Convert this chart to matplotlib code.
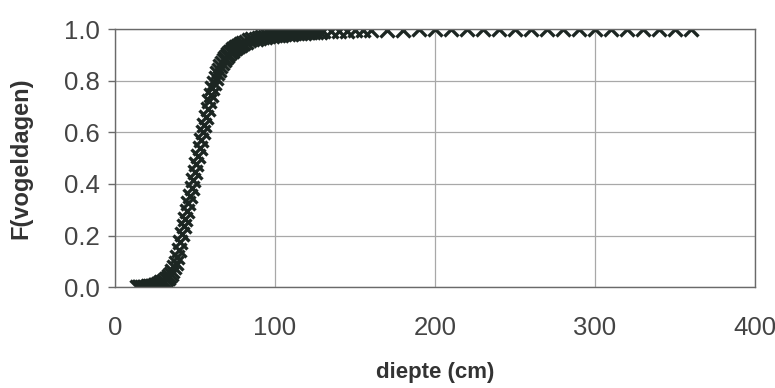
import matplotlib.pyplot as plt

plt.rcParams['font.family'] = ['Liberation Sans', 'DejaVu Sans']

# diepte (cm) en cumulatieve fractie vogeldagen
diepte = [14, 15, 16, 17, 18, 19, 20, 21, 22, 23, 24, 25, 26, 27, 28, 29,
          30, 31, 32, 33, 34, 35, 36, 37, 38, 39, 40, 41, 42, 43, 44, 45,
          46, 47, 48, 49, 50, 51, 52, 53, 54, 55, 56, 57, 58, 59, 60, 61,
          62, 63, 64, 65, 66, 67, 68, 69, 70, 71, 72, 73, 74, 75, 76, 77,
          78, 79, 80, 82, 84, 86, 88, 90, 92, 94, 96, 98, 100, 102, 104,
          106, 108, 110, 112, 114, 116, 118, 120, 122, 124, 126, 128, 130,
          135, 140, 145, 150, 155, 160, 170, 180, 190, 200, 210, 220, 230,
          240, 250, 260, 270, 280, 290, 300, 310, 320, 330, 340, 350, 360]
fractie = [0.000, 0.000, 0.000, 0.001, 0.001, 0.002, 0.002, 0.003, 0.004,
           0.005, 0.006, 0.008, 0.010, 0.012, 0.015, 0.018, 0.021, 0.025,
           0.030, 0.036, 0.043, 0.052, 0.063, 0.077, 0.095, 0.118, 0.145,
           0.175, 0.205, 0.235, 0.265, 0.295, 0.325, 0.355, 0.385, 0.415,
           0.445, 0.478, 0.510, 0.540, 0.570, 0.600, 0.630, 0.660, 0.690,
           0.720, 0.745, 0.770, 0.790, 0.810, 0.828, 0.843, 0.857, 0.869,
           0.880, 0.889, 0.897, 0.904, 0.910, 0.916, 0.921, 0.926, 0.930,
           0.934, 0.938, 0.942, 0.945, 0.951, 0.956, 0.960, 0.963, 0.966,
           0.969, 0.971, 0.973, 0.975, 0.977, 0.978, 0.979, 0.980, 0.981,
           0.982, 0.983, 0.984, 0.985, 0.986, 0.987, 0.988, 0.989, 0.990,
           0.990, 0.991, 0.992, 0.993, 0.994, 0.995, 0.996, 0.997, 0.998,
           0.998, 0.999, 0.999, 0.999, 1.000, 1.000, 1.000, 1.000, 1.000,
           1.000, 1.000, 1.000, 1.000, 1.000, 1.000, 1.000, 1.000, 1.000,
           1.000]

xticks = [0, 100, 200, 300, 400]
yticks = [0.0, 0.2, 0.4, 0.6, 0.8, 1.0]

fig = plt.figure(figsize=(7.75, 3.88), dpi=100)
ax = fig.add_axes([0.148, 0.260, 0.826, 0.665])

ax.plot(diepte, fractie, linestyle='none', marker='x', markersize=10,
        markeredgewidth=2.4, color='#1c2622')

ax.set_xlim(0, 400)
ax.set_ylim(0, 1.0)
ax.set_xticks(xticks)
ax.set_yticks(yticks)
ax.set_yticklabels(['%.1f' % v for v in yticks])
ax.grid(True, color='#a8a8a8', linewidth=0.9)
ax.set_axisbelow(True)

for s in ax.spines.values():
    s.set_color('#6a6a6a')
    s.set_linewidth(1.0)

ax.tick_params(axis='y', length=5, width=1, color='#6a6a6a', labelsize=18.5,
               labelcolor='#444444', pad=6)
ax.tick_params(axis='x', length=0, labelsize=18.5, labelcolor='#444444', pad=21)

ax.set_xlabel('diepte (cm)', fontsize=16, fontweight='bold', color='#333333')
ax.set_ylabel('F(vogeldagen)', fontsize=17, fontweight='bold', color='#333333')
ax.xaxis.set_label_coords(0.5, -0.29)
ax.yaxis.set_label_coords(-0.128, 0.5)

fig.savefig('out.png', dpi=100)
